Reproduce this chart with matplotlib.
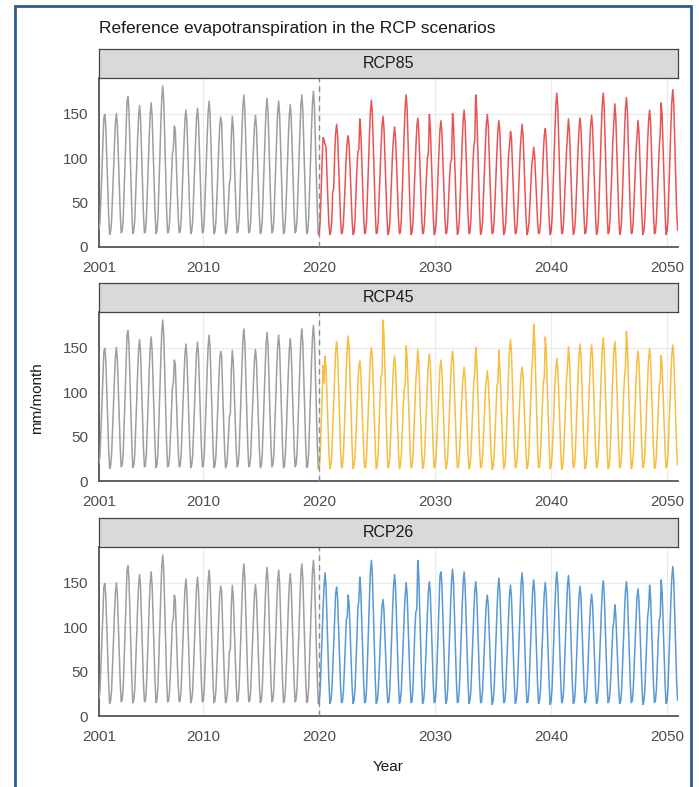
import numpy as np
import matplotlib
matplotlib.use("Agg")
import matplotlib.pyplot as plt
from matplotlib.patches import Rectangle

plt.rcParams["font.family"] = ["Liberation Sans", "DejaVu Sans"]

# monthly reference ET (mm/month), one row per year, Jan..Dec
hist_years = list(range(2001, 2020))
hist_et = [
    [20, 28, 55, 85, 114, 145, 149, 136, 103, 69, 36, 14],
    [17, 29, 56, 85, 115, 139, 150, 137, 104, 69, 37, 16],
    [18, 30, 61, 95, 129, 164, 169, 154, 117, 77, 40, 15],
    [18, 29, 58, 90, 122, 147, 159, 145, 110, 73, 38, 16],
    [17, 30, 59, 91, 124, 150, 162, 147, 112, 74, 39, 15],
    [18, 32, 65, 101, 138, 168, 181, 164, 125, 81, 42, 16],
    [17, 27, 51, 78, 105, 110, 136, 131, 95, 63, 34, 16],
    [17, 29, 57, 87, 118, 143, 154, 140, 107, 71, 37, 15],
    [18, 29, 57, 88, 119, 145, 156, 142, 108, 71, 38, 16],
    [17, 30, 60, 92, 125, 152, 164, 149, 113, 75, 39, 15],
    [17, 28, 54, 83, 112, 136, 146, 140, 101, 67, 36, 15],
    [17, 28, 50, 72, 76, 125, 147, 134, 102, 68, 36, 16],
    [18, 31, 62, 96, 130, 159, 171, 155, 118, 77, 40, 16],
    [17, 28, 55, 84, 113, 137, 148, 135, 103, 68, 36, 15],
    [17, 30, 61, 94, 127, 155, 167, 152, 115, 76, 39, 16],
    [18, 30, 60, 92, 125, 152, 164, 149, 113, 75, 39, 15],
    [17, 30, 58, 90, 122, 148, 160, 146, 111, 73, 38, 16],
    [18, 31, 62, 96, 130, 159, 171, 155, 118, 77, 40, 15],
    [17, 31, 63, 98, 133, 162, 175, 159, 121, 79, 41, 14],
]

scen_years = list(range(2020, 2051))
rcp85_et = [
    [15, 30, 62, 98, 123, 120, 116, 112, 82, 52, 26, 14],
    [17, 30, 62, 66, 105, 128, 138, 126, 96, 63, 33, 15],
    [16, 27, 50, 77, 103, 119, 125, 114, 87, 57, 30, 14],
    [16, 29, 57, 88, 107, 110, 144, 131, 99, 65, 34, 15],
    [17, 30, 60, 93, 126, 153, 165, 150, 114, 75, 39, 15],
    [16, 28, 55, 84, 113, 136, 147, 134, 102, 68, 36, 14],
    [16, 27, 52, 80, 108, 124, 135, 122, 95, 62, 32, 15],
    [17, 31, 62, 96, 130, 159, 171, 155, 118, 77, 40, 14],
    [16, 28, 54, 83, 111, 135, 145, 132, 101, 67, 36, 15],
    [16, 28, 55, 80, 100, 106, 149, 135, 103, 68, 36, 14],
    [17, 28, 53, 81, 109, 132, 142, 129, 99, 66, 35, 15],
    [16, 29, 55, 80, 95, 98, 150, 137, 104, 69, 37, 14],
    [17, 29, 57, 87, 118, 143, 154, 140, 107, 71, 37, 15],
    [16, 31, 60, 90, 113, 120, 171, 155, 118, 77, 40, 14],
    [17, 28, 55, 85, 114, 138, 149, 136, 103, 69, 36, 15],
    [16, 28, 53, 81, 109, 132, 142, 129, 99, 66, 35, 14],
    [17, 27, 50, 78, 104, 114, 130, 123, 92, 61, 32, 15],
    [16, 27, 52, 80, 108, 125, 138, 126, 96, 64, 34, 14],
    [17, 26, 46, 70, 92, 100, 112, 103, 79, 53, 29, 15],
    [16, 27, 51, 78, 106, 126, 133, 120, 92, 61, 32, 14],
    [17, 31, 62, 97, 132, 160, 173, 157, 119, 78, 40, 15],
    [16, 28, 54, 82, 108, 126, 144, 131, 100, 66, 35, 14],
    [17, 28, 54, 83, 111, 135, 145, 132, 101, 67, 36, 15],
    [16, 28, 55, 84, 113, 137, 148, 135, 103, 68, 36, 14],
    [17, 31, 62, 97, 132, 160, 173, 157, 119, 78, 40, 15],
    [16, 30, 58, 90, 120, 141, 161, 146, 111, 73, 38, 14],
    [17, 30, 61, 95, 128, 156, 168, 153, 116, 76, 39, 15],
    [16, 28, 53, 81, 108, 126, 142, 129, 99, 66, 35, 14],
    [17, 29, 57, 87, 118, 143, 154, 140, 107, 71, 37, 15],
    [16, 30, 58, 88, 112, 128, 162, 147, 112, 74, 39, 14],
    [17, 31, 64, 99, 135, 164, 177, 161, 122, 80, 41, 19],
]
rcp45_et = [
    [15, 30, 62, 95, 130, 110, 140, 128, 97, 64, 33, 14],
    [17, 29, 58, 89, 120, 146, 157, 143, 109, 72, 38, 15],
    [16, 30, 59, 92, 124, 151, 163, 148, 113, 74, 39, 14],
    [17, 27, 51, 79, 107, 129, 135, 123, 94, 63, 33, 15],
    [16, 29, 56, 85, 115, 139, 150, 137, 104, 69, 37, 14],
    [17, 32, 63, 95, 118, 121, 181, 164, 125, 81, 42, 15],
    [16, 28, 53, 81, 108, 131, 141, 128, 98, 65, 35, 14],
    [17, 29, 56, 85, 104, 108, 152, 138, 105, 70, 37, 15],
    [16, 28, 55, 84, 113, 127, 148, 135, 103, 68, 36, 14],
    [17, 28, 54, 82, 110, 133, 143, 130, 100, 66, 35, 15],
    [16, 27, 51, 79, 106, 127, 136, 124, 95, 63, 33, 14],
    [17, 28, 54, 83, 112, 136, 146, 133, 101, 67, 36, 15],
    [16, 27, 49, 76, 102, 119, 128, 116, 90, 60, 32, 14],
    [17, 29, 56, 85, 112, 121, 150, 137, 104, 69, 37, 15],
    [16, 26, 48, 75, 100, 113, 124, 112, 87, 58, 31, 13],
    [16, 28, 55, 85, 107, 110, 147, 127, 100, 67, 35, 14],
    [17, 29, 58, 89, 121, 147, 159, 145, 110, 73, 38, 15],
    [16, 27, 49, 76, 102, 121, 128, 117, 90, 60, 32, 14],
    [17, 31, 62, 96, 125, 138, 176, 160, 121, 79, 41, 15],
    [16, 30, 58, 88, 112, 116, 162, 147, 112, 74, 39, 14],
    [17, 27, 52, 80, 108, 127, 138, 126, 96, 64, 34, 13],
    [16, 29, 56, 86, 114, 129, 151, 138, 105, 70, 37, 15],
    [17, 29, 57, 87, 118, 143, 154, 140, 107, 71, 37, 14],
    [16, 29, 57, 87, 117, 142, 153, 139, 106, 70, 37, 15],
    [17, 30, 58, 90, 122, 149, 161, 146, 111, 73, 38, 14],
    [16, 29, 58, 89, 120, 146, 157, 143, 109, 72, 38, 15],
    [17, 30, 61, 95, 117, 127, 168, 153, 116, 76, 39, 14],
    [16, 28, 54, 83, 112, 136, 146, 133, 101, 67, 36, 15],
    [17, 28, 55, 85, 114, 138, 149, 136, 103, 69, 36, 14],
    [16, 28, 53, 81, 108, 112, 141, 128, 98, 65, 35, 15],
    [17, 29, 57, 87, 117, 142, 153, 139, 106, 70, 37, 18],
]
rcp26_et = [
    [15, 30, 60, 92, 122, 146, 161, 146, 111, 73, 38, 14],
    [17, 28, 54, 83, 111, 138, 145, 132, 101, 67, 36, 15],
    [16, 27, 51, 79, 108, 112, 136, 124, 95, 63, 33, 14],
    [17, 29, 57, 88, 121, 130, 156, 142, 108, 71, 37, 15],
    [16, 31, 63, 98, 133, 162, 175, 159, 121, 79, 41, 14],
    [17, 27, 50, 77, 104, 123, 131, 119, 91, 61, 32, 15],
    [16, 29, 58, 89, 121, 147, 159, 145, 110, 73, 38, 14],
    [17, 29, 56, 85, 115, 136, 150, 137, 104, 69, 37, 15],
    [16, 31, 63, 98, 117, 120, 175, 159, 121, 79, 41, 14],
    [17, 29, 56, 86, 116, 140, 151, 138, 105, 70, 37, 15],
    [16, 30, 59, 91, 124, 158, 162, 147, 112, 74, 39, 14],
    [17, 30, 60, 92, 125, 152, 165, 150, 114, 75, 39, 15],
    [16, 30, 59, 91, 124, 150, 162, 147, 112, 74, 39, 14],
    [17, 29, 56, 86, 116, 140, 151, 138, 105, 70, 37, 15],
    [16, 27, 51, 79, 106, 127, 136, 124, 95, 63, 33, 13],
    [17, 29, 57, 87, 118, 143, 155, 140, 107, 71, 37, 15],
    [16, 28, 55, 84, 113, 136, 147, 134, 102, 68, 36, 14],
    [17, 30, 58, 90, 121, 149, 161, 146, 111, 73, 38, 15],
    [16, 29, 57, 87, 117, 142, 153, 139, 106, 70, 37, 14],
    [17, 29, 56, 85, 115, 139, 150, 137, 104, 69, 37, 13],
    [16, 30, 59, 91, 124, 150, 162, 147, 112, 74, 39, 15],
    [17, 29, 58, 89, 120, 146, 158, 144, 109, 72, 38, 14],
    [16, 28, 54, 83, 112, 136, 146, 133, 101, 67, 36, 15],
    [17, 27, 51, 79, 107, 127, 137, 125, 95, 63, 33, 14],
    [16, 29, 56, 86, 116, 141, 152, 138, 105, 70, 37, 15],
    [17, 26, 48, 74, 100, 106, 125, 114, 87, 58, 31, 14],
    [16, 29, 56, 86, 116, 140, 151, 138, 105, 70, 37, 15],
    [17, 28, 54, 82, 110, 133, 143, 130, 100, 66, 35, 13],
    [16, 28, 55, 84, 112, 121, 147, 134, 102, 68, 36, 15],
    [17, 29, 57, 87, 108, 112, 153, 139, 106, 70, 37, 14],
    [16, 30, 61, 95, 128, 156, 168, 153, 116, 76, 39, 18],
]

panel_names = ["RCP85", "RCP45", "RCP26"]
panel_series = [rcp85_et, rcp45_et, rcp26_et]
panel_colors = ["#E41A1C", "#F5A800", "#1F78C8"]
x_ticks = [2001, 2010, 2020, 2030, 2040, 2050]
y_ticks = [0, 50, 100, 150]


def monthly_x(years):
    yrs = np.repeat(np.array(years, dtype=float), 12)
    return yrs + np.tile(np.arange(12), len(years)) / 12.0


x_hist = monthly_x(hist_years)
y_hist = np.array(hist_et, dtype=float).ravel()
x_scen = monthly_x(scen_years)

W, H = 699, 787
fig = plt.figure(figsize=(W / 100, H / 100), dpi=100)

AX_L, AX_R = 99, 678
strip_tops = [49, 283, 518]
STRIP_H = 29
AX_H = 169

TXT = "#4D4D4D"

for i, (name, series, col) in enumerate(zip(panel_names, panel_series, panel_colors)):
    top = strip_tops[i]
    ax_top = top + STRIP_H
    ax = fig.add_axes([AX_L / W, 1 - (ax_top + AX_H) / H,
                       (AX_R - AX_L) / W, AX_H / H])
    sax = fig.add_axes([AX_L / W, 1 - ax_top / H,
                        (AX_R - AX_L) / W, STRIP_H / H])

    ax.plot(x_hist, y_hist, color="#9E9E9E", lw=1.1, zorder=3)
    ax.plot(x_scen, np.array(series, dtype=float).ravel(),
            color=col, lw=1.1, alpha=0.75, zorder=3)
    ax.axvline(2020, color="#8C8C8C", lw=1.0, ls=(0, (4, 3)), zorder=4)

    ax.set_xlim(2001, 2050.95)
    ax.set_ylim(0, 190)
    ax.set_xticks(x_ticks)
    ax.set_yticks(y_ticks)
    ax.grid(color="#EBEBEB", lw=0.9)
    ax.set_axisbelow(True)
    ax.tick_params(length=0, labelsize=11, labelcolor=TXT)
    ax.tick_params(axis="x", pad=10)
    ax.tick_params(axis="y", pad=8)
    for s in ["top", "right"]:
        ax.spines[s].set_visible(False)
    for s in ["left", "bottom"]:
        ax.spines[s].set_color("#555555")
        ax.spines[s].set_linewidth(1.3)

    sax.set_facecolor("#D9D9D9")
    sax.set_xticks([])
    sax.set_yticks([])
    for s in sax.spines.values():
        s.set_color("#444444")
        s.set_linewidth(0.9)
    sax.text(0.5, 0.5, name, ha="center", va="center", fontsize=11.5,
             color="#1A1A1A", transform=sax.transAxes)

fig.text(AX_L / W, 1 - 28 / H, "Reference evapotranspiration in the RCP scenarios",
         ha="left", va="center", fontsize=12.5, color="#1A1A1A")
fig.text(37 / W, 1 - 398 / H, "mm/month", rotation=90, ha="center",
         va="center", fontsize=11, color="#1A1A1A")
fig.text((AX_L + AX_R) / 2 / W, 1 - 767 / H, "Year", ha="center",
         va="center", fontsize=11, color="#1A1A1A")

# blue frame around the whole figure
fig.patches.append(Rectangle((14.5 / W, -0.05), (690.5 - 14.5) / W,
                             1.05 - 5.5 / H, fill=False, edgecolor="#2E5D8C",
                             lw=2.0, transform=fig.transFigure, figure=fig))

fig.savefig("out.png", dpi=100)
